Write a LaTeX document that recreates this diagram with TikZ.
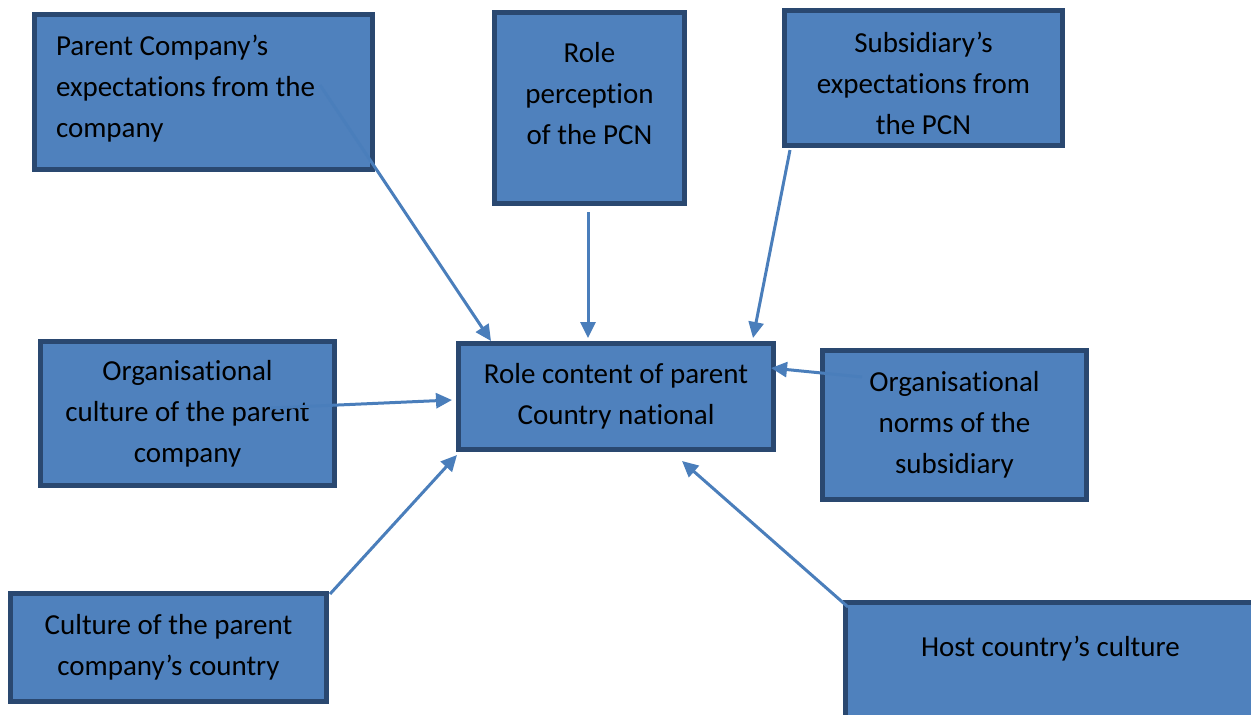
\documentclass[tikz,border=0pt]{standalone}
\usepackage{fontspec}
\setmainfont{Carlito}[Ligatures=NoCommon]
\usetikzlibrary{arrows.meta}
\definecolor{boxfill}{HTML}{4F81BD}
\definecolor{boxline}{HTML}{2A4870}
\definecolor{arrowcol}{HTML}{4A7EBB}
\begin{document}
\begin{tikzpicture}[x=1pt,y=-1pt,
  box/.style={draw=boxline,fill=boxfill,line width=5pt,rectangle,inner sep=0pt,outer sep=0pt,
    align=center,text=black,font=\fontsize{29}{41}\selectfont},
  link/.style={draw=arrowcol,line width=3pt,-{Triangle[length=16pt,width=15pt]}}]
\useasboundingbox (0,0) rectangle (1251,715);
\clip (0,0) rectangle (1251,715);

% influencing factors around the central role
\node[box,align=flush left,text width=295pt,text depth=94pt,minimum width=338pt,minimum height=155pt] (pexp) at (203.5,92)
  {Parent Company’s\\expectations from the\\company};
\node[box,text depth=30pt,minimum width=190pt,minimum height=191pt] (rperc) at (589.5,108)
  {Role\\perception\\of the PCN};
\node[box,text height=113pt,text depth=0pt,minimum width=278pt,minimum height=135pt] (sexp) at (923.5,78)
  {Subsidiary’s\\expectations from\\the PCN};
\node[box,minimum width=294pt,minimum height=144pt] (oculture) at (187.5,413.5)
  {Organisational\\culture of the parent\\company};
\node[box,minimum width=315pt,minimum height=106pt] (role) at (616,396.5)
  {Role content of parent\\Country national};
\node[box,minimum width=264pt,minimum height=149pt] (onorms) at (954.5,425)
  {Organisational\\norms of the\\subsidiary};
\node[box,minimum width=316pt,minimum height=108pt] (pculture) at (168.5,647.5)
  {Culture of the parent\\company’s country};
\node[box,text depth=92pt,minimum width=410pt,minimum height=180pt] (host) at (1050.5,692.5)
  {Host country’s culture};

% connector ends
\coordinate (s1) at (320,85);   \coordinate (t1) at (491,341);
\coordinate (s2) at (588,212);  \coordinate (t2) at (588,338);
\coordinate (s3) at (790,150);  \coordinate (t3) at (753,338);
\coordinate (s4) at (862,377);  \coordinate (t4) at (771,368);
\coordinate (s5) at (270,408);  \coordinate (t5) at (452,400);
\coordinate (s6) at (330,594);  \coordinate (t6) at (457,455);
\coordinate (s7) at (848,607);  \coordinate (t7) at (682,461);

\draw[link] (s1) -- (t1);
\draw[link] (s2) -- (t2);
\draw[link] (s3) -- (t3);
\draw[link] (s4) -- (t4);
\draw[link] (s5) -- (t5);
\draw[link] (s6) -- (t6);
\draw[link] (s7) -- (t7);
\end{tikzpicture}
\end{document}
